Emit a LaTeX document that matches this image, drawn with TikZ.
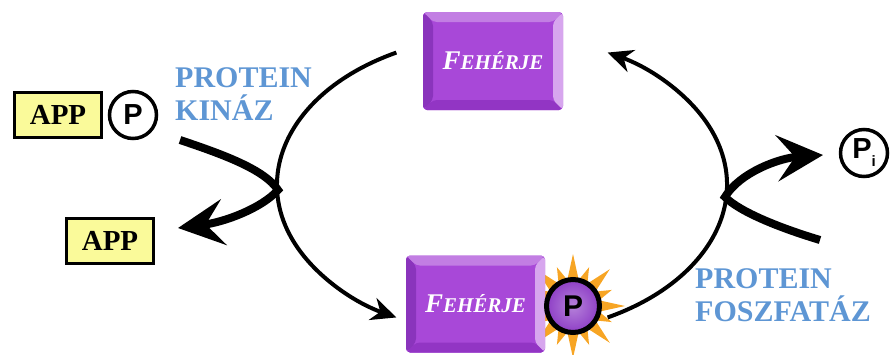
\documentclass[tikz,border=0pt]{standalone}
\usepackage{fontspec}
\setmainfont{Liberation Serif}
\newfontfamily\psans{Liberation Sans}
\usetikzlibrary{arrows.meta,calc}
\definecolor{pmain}{HTML}{A848D8}
\definecolor{ptop}{HTML}{C27EE3}
\definecolor{pleft}{HTML}{8A34BC}
\definecolor{pright}{HTML}{D7A6EE}
\definecolor{pbot}{HTML}{9235C4}
\definecolor{appyellow}{HTML}{FAFA9A}
\definecolor{enzblue}{HTML}{5E96D4}
\definecolor{starorange}{HTML}{F7A524}
\definecolor{pball}{HTML}{8E3EC6}
\tikzset{
  bevelbox/.style={rectangle, rounded corners=4pt, fill=pmain, minimum width=140pt,
    minimum height=98pt, inner sep=0pt, text=white,
    font=\bfseries\itshape,
    path picture={
      \coordinate (bnw) at (path picture bounding box.north west);
      \coordinate (bne) at (path picture bounding box.north east);
      \coordinate (bsw) at (path picture bounding box.south west);
      \coordinate (bse) at (path picture bounding box.south east);
      \fill[ptop] (bnw) -- (bne) -- ([shift={(-10,-10)}]bne) -- ([shift={(10,-10)}]bnw) -- cycle;
      \fill[pbot] (bsw) -- (bse) -- ([shift={(-10,10)}]bse) -- ([shift={(10,10)}]bsw) -- cycle;
      \fill[pleft] (bnw) -- ([shift={(10,-10)}]bnw) -- ([shift={(10,10)}]bsw) -- (bsw) -- cycle;
      \fill[pright] (bne) -- ([shift={(-10,-10)}]bne) -- ([shift={(-10,10)}]bse) -- (bse) -- cycle;
    }},
  appbox/.style={rectangle, draw=black, line width=3pt, fill=appyellow, minimum width=87pt,
    minimum height=45pt, inner sep=0pt, font=\bfseries\fontsize{29}{29}\selectfont},
  pcirc/.style={circle, draw=black, line width=3.5pt, fill=white, minimum size=47pt, inner sep=0pt,
    font=\psans\bfseries\fontsize{29}{29}\selectfont},
  enzyme/.style={anchor=north west, inner sep=0pt, align=left, text=enzblue,
    font=\bfseries\fontsize{30}{33}\selectfont},
  thinarc/.style={line width=4pt, -{Stealth[length=25pt, width=23pt, inset=8pt]}},
  thickarr/.style={line width=8pt, line join=miter, -{Stealth[length=46pt, width=46pt, inset=18pt]}},
}
\begin{document}
\begin{tikzpicture}[x=1pt,y=1pt]
\useasboundingbox (0,0) rectangle (893,-354);
% cycle ellipse centre
\coordinate (cyc) at (502,-185);
% star behind phosphate
\coordinate (sc) at (573,-306);
\foreach \a in {0,45,...,315}
  \fill[starorange] ([shift={(\a:52)}]sc) -- ([shift={(\a+13:26)}]sc) -- ([shift={(\a-13:26)}]sc) -- cycle;
\foreach \a in {22.5,67.5,...,337.5}
  \fill[starorange] ([shift={(\a:42)}]sc) -- ([shift={(\a+11:26)}]sc) -- ([shift={(\a-11:26)}]sc) -- cycle;
% proteins
\node[bevelbox] (top) at (493,-61) {\fontsize{27}{27}\selectfont F\fontsize{21}{21}\selectfont EHÉRJE};
\node[bevelbox, minimum width=139pt, minimum height=97pt] (bot) at (475.5,-304) {\fontsize{27}{27}\selectfont F\fontsize{21}{21}\selectfont EHÉRJE};
\node[circle, draw=black, line width=5pt, inner color=pball!65!white, outer color=pball,
      minimum size=53pt, inner sep=0pt, font=\psans\bfseries\fontsize{30}{30}\selectfont] (pbot) at (sc) {P};
% APP
\node[appbox] (app1) at (58,-114.5) {APP};
\node[pcirc] (p1) at (133,-115) {P};
\node[appbox] (app2) at (110,-241) {APP};
% Pi
\node[pcirc] (pi) at (864,-153) {P\raisebox{-8pt}{\fontsize{15}{15}\selectfont i}};
% enzyme labels
\node[enzyme] (kin) at (175,-67) {PROTEIN\\KINÁZ};
\node[enzyme] (fosz) at (695,-268) {PROTEIN\\FOSZFATÁZ};
% cycle arcs
\draw[thinarc] (cyc) ++(118:225 and 150) arc[start angle=118, end angle=242, x radius=225, y radius=150];
\draw[thinarc] (cyc) ++(-62:225 and 150) arc[start angle=-62, end angle=62, x radius=225, y radius=150];
% kinase thick arrow
\coordinate (kin-tail) at (180,-140);
\coordinate (kin-j) at (278,-190);
\coordinate (kin-tip) at (178,-228);
\draw[thickarr] (kin-tail) .. controls (225,-155) and (265,-170) .. (kin-j)
  .. controls (262,-208) and (225,-222) .. (kin-tip);
% phosphatase thick arrow
\coordinate (fos-tail) at (820,-240);
\coordinate (fos-j) at (725,-197);
\coordinate (fos-tip) at (823,-155);
\draw[thickarr] (fos-tail) .. controls (780,-228) and (740,-212) .. (fos-j)
  .. controls (740,-172) and (780,-158) .. (fos-tip);
\end{tikzpicture}
\end{document}
